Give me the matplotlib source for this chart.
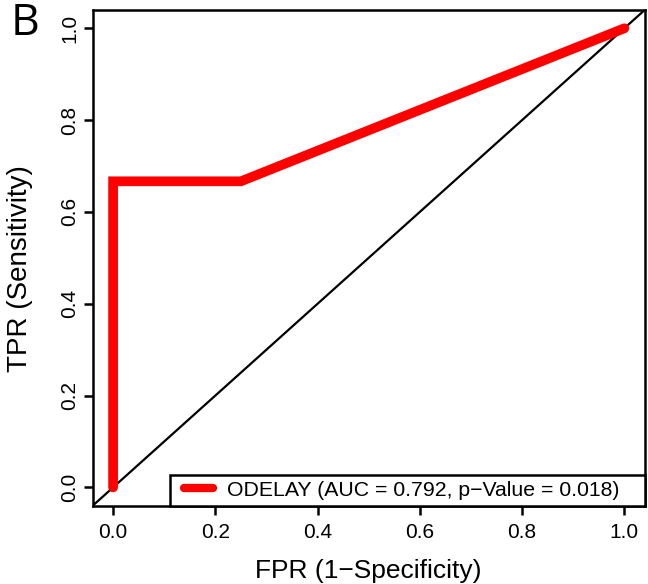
import matplotlib
matplotlib.use("Agg")
import matplotlib.pyplot as plt
from matplotlib.patches import Rectangle

# ROC curve points
fpr = [0.0, 0.0, 0.25, 1.0]
tpr = [0.0, 0.6667, 0.6667, 1.0]
ticks = [0.0, 0.2, 0.4, 0.6, 0.8, 1.0]
legend_label = "ODELAY (AUC = 0.792, p\u2212Value = 0.018)"

plt.rcParams['font.family'] = ['Liberation Sans', 'DejaVu Sans']

fig = plt.figure(figsize=(6.48, 5.84), dpi=100)
ax = fig.add_axes([0.143, 0.134, 0.852, 0.849])

ax.set_xlim(-0.04, 1.04)
ax.set_ylim(-0.04, 1.04)

# chance line
ax.plot([-0.04, 1.04], [-0.04, 1.04], color='black', linewidth=1.6, zorder=2)
# ROC curve
ax.plot(fpr, tpr, color='#ff0000', linewidth=7, solid_capstyle='round',
        solid_joinstyle='miter', zorder=3, label=legend_label)

ax.set_xticks(ticks)
ax.set_yticks(ticks)
ax.set_xticklabels(["%.1f" % t for t in ticks])
ax.set_yticklabels(["%.1f" % t for t in ticks], rotation=90, va='center')
ax.tick_params(direction='out', length=6.5, width=1.8, labelsize=15)
ax.tick_params(axis='x', pad=6)
ax.tick_params(axis='y', pad=3)
for s in ax.spines.values():
    s.set_linewidth(1.8)

ax.set_xlabel("FPR (1\u2212Specificity)", fontsize=19, labelpad=12.5)
ax.set_ylabel("TPR (Sensitivity)", fontsize=20)
ax.yaxis.set_label_coords(-0.108, 0.479)

# legend box (R style, wider than its content)
box = Rectangle((0.140, 0.0), 0.860, 0.062, transform=ax.transAxes,
                facecolor='white', edgecolor='black', linewidth=1.8, zorder=5,
                clip_on=False)
ax.add_patch(box)
leg = ax.legend(loc='center left', bbox_to_anchor=(0.1654, 0.031),
                fontsize=15.3, frameon=False, borderaxespad=0, borderpad=0,
                handlelength=1.36, handletextpad=0.66)
leg.set_zorder(6)
leg.get_lines()[0].set_linewidth(6)

fig.text(0.016, 0.997, "B", fontsize=32, family='Open Sans', va='top', ha='left')

fig.savefig("out.png", dpi=100)
